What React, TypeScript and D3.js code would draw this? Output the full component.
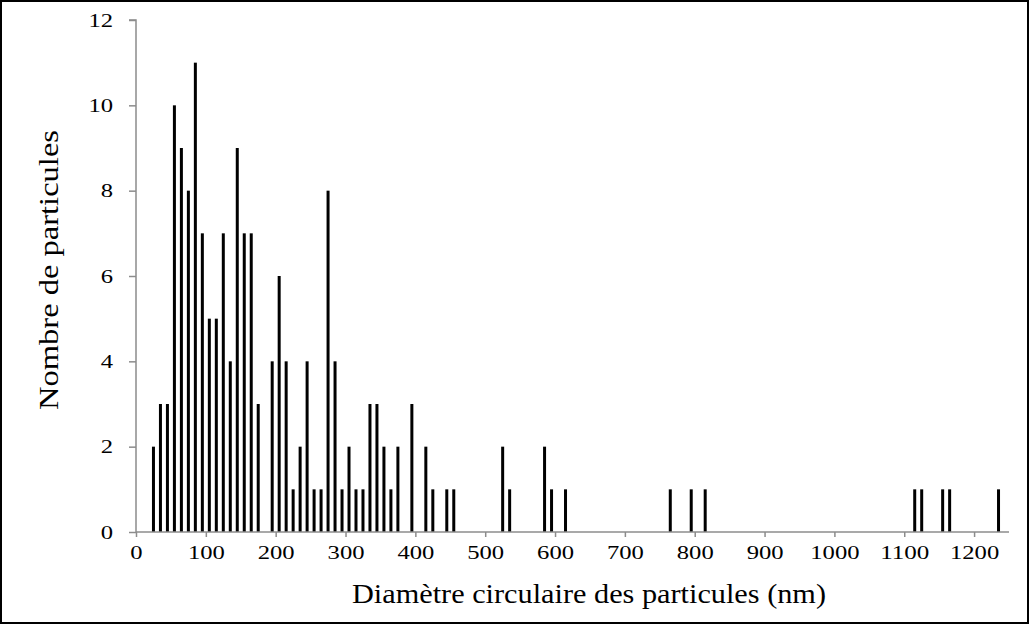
import React, { useEffect, useRef } from 'react';
import * as d3 from 'd3';

// bin start (nm) and particle count, 10 nm bins
const binStarts = [
  20, 30, 40, 50, 60, 70, 80, 90, 100, 110, 120, 130, 140, 150, 160, 170,
  190, 200, 210, 220, 230, 240, 250, 260, 270, 280, 290, 300, 310, 320, 330,
  340, 350, 360, 370, 390, 410, 420, 440, 450, 520, 530, 580, 590, 610, 760,
  790, 810, 1110, 1120, 1150, 1160, 1230,
];
const counts = [
  2, 3, 3, 10, 9, 8, 11, 7, 5, 5, 7, 4, 9, 7, 7, 3,
  4, 6, 4, 1, 2, 4, 1, 1, 8, 4, 1, 2, 1, 1, 3,
  3, 2, 1, 2, 3, 2, 1, 1, 1, 2, 1, 2, 1, 1, 1,
  1, 1, 1, 1, 1, 1, 1,
];
const xTicks = [0, 100, 200, 300, 400, 500, 600, 700, 800, 900, 1000, 1100, 1200];
const yTicks = [0, 2, 4, 6, 8, 10, 12];

const xTitle = 'Diamètre circulaire des particules (nm)';
const yTitle = 'Nombre de particules';

const W = 1029;
const H = 624;
const FONT = '"Liberation Serif", "Times New Roman", serif';
const DIGIT_W = 12.3; // the source picture is stretched sideways

const App: React.FC = () => {
  const svgRef = useRef<SVGSVGElement>(null);

  useEffect(() => {
    document.body.style.margin = '0';
    if (!svgRef.current) return;

    const svg = d3.select(svgRef.current);
    svg.selectAll('*').remove();

    const x = d3.scaleLinear().domain([0, 1250]).range([136, 1009]);
    const y = d3.scaleLinear().domain([0, 12]).range([532, 20]);

    svg.append('rect')
      .attr('x', 1).attr('y', 1)
      .attr('width', W - 2).attr('height', H - 2)
      .attr('fill', 'white')
      .attr('stroke', 'black')
      .attr('stroke-width', 2);

    const data = binStarts.map((b, i) => ({ b, c: counts[i] }));

    // bars
    svg.append('g')
      .selectAll('rect')
      .data(data)
      .join('rect')
      .attr('x', d => x(d.b + 5) - 1.5)
      .attr('y', d => y(d.c))
      .attr('width', 3)
      .attr('height', d => y(0) - y(d.c))
      .attr('fill', 'black');

    const fmt = d3.format('d');

    // y axis
    const yAxis = svg.append('g')
      .attr('transform', `translate(${x(0)},0)`)
      .call(d3.axisLeft(y).tickValues(yTicks).tickFormat(d => fmt(d as number)).tickSize(7).tickPadding(16));
    yAxis.attr('font-family', null).attr('font-size', null);
    yAxis.select('.domain').attr('stroke', '#8c8c8c').attr('stroke-width', 1.5)
      .attr('d', `M-7,${y(12)}H0V${y(0)}`);
    yAxis.selectAll('.tick line').attr('stroke', '#8c8c8c').attr('stroke-width', 1.5);
    yAxis.selectAll<SVGTextElement, number>('.tick text')
      .style('font-family', FONT).style('font-size', '19px').attr('fill', 'black')
      .attr('textLength', d => fmt(d).length * DIGIT_W)
      .attr('lengthAdjust', 'spacingAndGlyphs');

    // x axis
    const xAxis = svg.append('g')
      .attr('transform', `translate(0,${y(0)})`)
      .call(d3.axisBottom(x).tickValues(xTicks).tickFormat(d => fmt(d as number)).tickSize(5));
    xAxis.attr('font-family', null).attr('font-size', null);
    xAxis.select('.domain').attr('stroke', '#8c8c8c').attr('stroke-width', 1.5)
      .attr('d', `M${x(0)},0H${x(1250)}`);
    xAxis.selectAll('.tick line').attr('stroke', '#8c8c8c').attr('stroke-width', 1.5);
    xAxis.selectAll<SVGTextElement, number>('.tick text')
      .attr('y', 27).attr('dy', 0)
      .style('font-family', FONT).style('font-size', '19px').attr('fill', 'black')
      .attr('textLength', d => fmt(d).length * DIGIT_W)
      .attr('lengthAdjust', 'spacingAndGlyphs');

    // titles
    svg.append('text')
      .attr('x', 589).attr('y', 603)
      .attr('text-anchor', 'middle')
      .style('font-family', FONT).style('font-size', '27px')
      .attr('textLength', 474).attr('lengthAdjust', 'spacingAndGlyphs')
      .text(xTitle);

    svg.append('text')
      .attr('transform', 'translate(58,270) rotate(-90)')
      .attr('text-anchor', 'middle')
      .style('font-family', FONT).style('font-size', '27px')
      .attr('textLength', 280).attr('lengthAdjust', 'spacingAndGlyphs')
      .text(yTitle);
  }, []);

  return <svg ref={svgRef} width={W} height={H} style={{ display: 'block' }} />;
};

export default App;
